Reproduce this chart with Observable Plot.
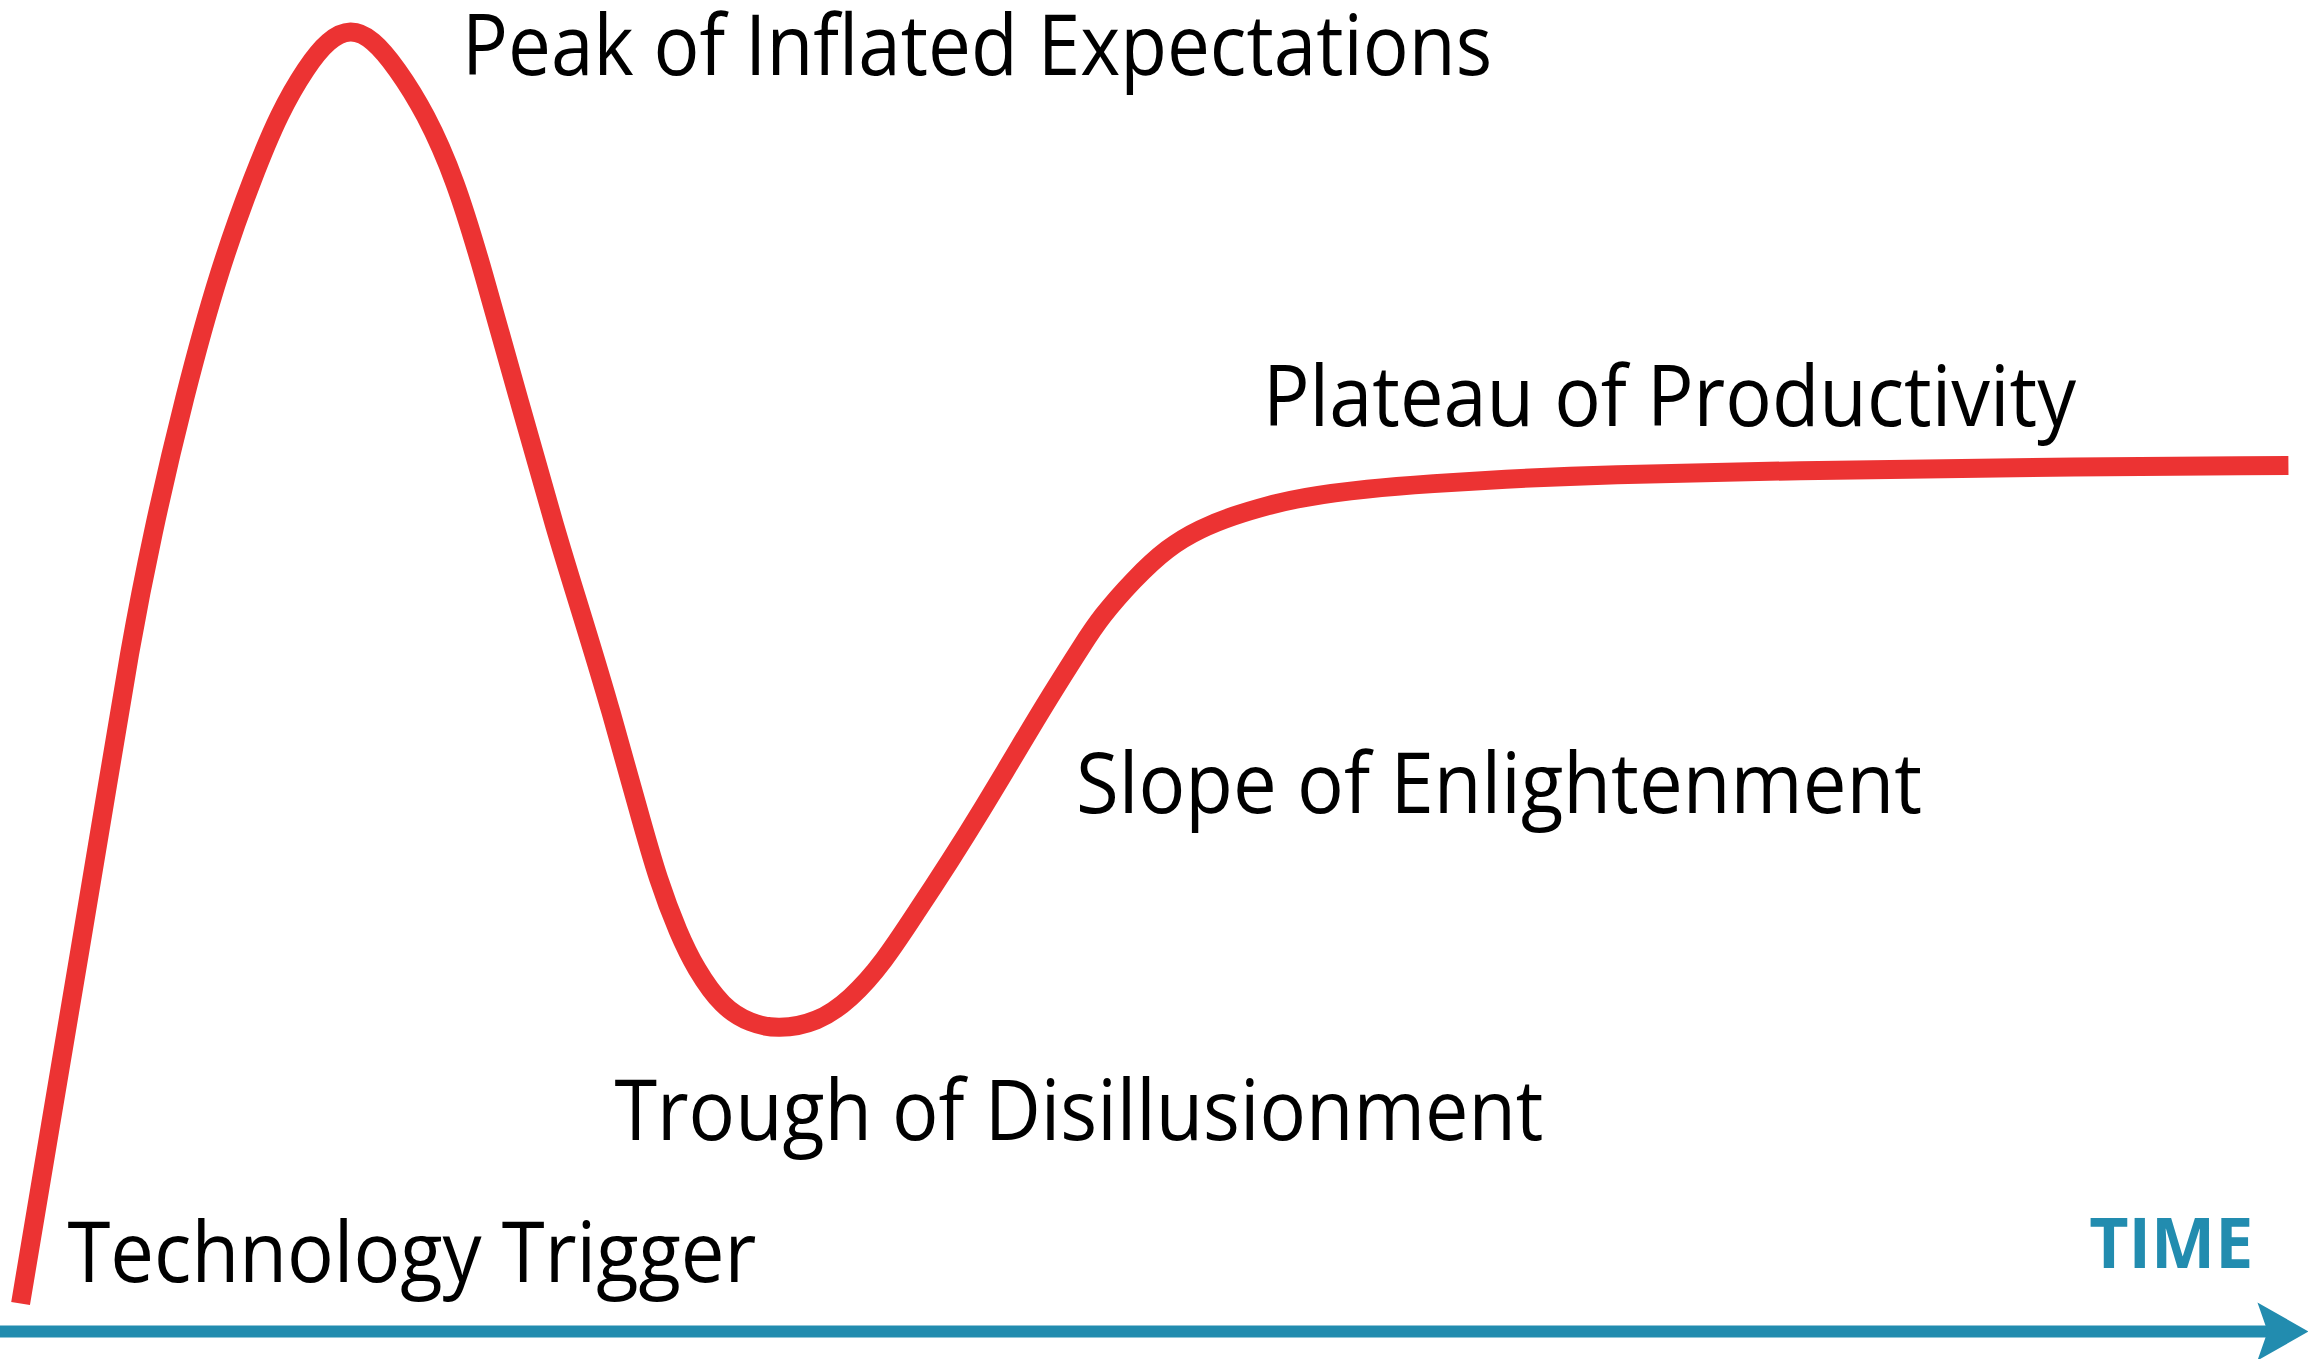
<!DOCTYPE html>
<html>
<head>
<meta charset="utf-8">
<script src="https://cdn.jsdelivr.net/npm/d3@7"></script>
<script src="https://cdn.jsdelivr.net/npm/@observablehq/plot@0.6"></script>
<style>
  html, body { margin: 0; padding: 0; background: #ffffff; }
  #chart svg { display: block; background: #ffffff; overflow: visible; }
</style>
</head>
<body>
<div id="chart"></div>
<script>
// ---- Data (time vs. visibility / expectations, arbitrary units 0–100) ----
const timeVals = [0.87, 2.17, 3.47, 4.68, 5.59, 6.54, 7.97, 9.49, 10.96, 12.09, 13.26, 14.21, 15.16,
  16.12, 17.16, 18.41, 19.71, 20.88, 22.49, 24.13, 25.04, 26.39, 27.64, 28.51, 29.38, 30.11, 31.28,
  32.50, 33.67, 35.40, 36.83, 38.26, 39.73, 41.16, 42.59, 44.06, 45.49, 46.92, 47.66, 49.09, 50.56,
  51.99, 53.42, 54.90, 56.33, 59.23, 62.09, 64.99, 69.32, 77.99, 86.66, 99.13];
const hypeVals = [2.15, 15.89, 29.55, 42.36, 52.26, 60.94, 71.83, 81.58, 88.72, 93.55, 97.08, 99.16, 100,
  99.23, 97.01, 93.55, 88.41, 81.58, 71.30, 61.01, 55.87, 48.04, 39.98, 34.54, 30.55, 27.86, 24.87,
  23.64, 23.18, 23.71, 25.48, 28.32, 32.31, 36.15, 40.21, 44.59, 48.81, 52.80, 54.80, 57.71, 60.17,
  61.63, 62.62, 63.39, 64.01, 64.70, 65.08, 65.40, 65.77, 66.08, 66.31, 66.46];

const phaseNames = ["Peak of Inflated Expectations", "Plateau of Productivity", "Slope of Enlightenment",
  "Trough of Disillusionment", "Technology Trigger"];
const phaseTime = [20.0, 54.7, 46.6, 26.6, 2.9];
const phaseLevel = [96.4, 69.5, 39.8, 14.7, 3.8];

const axisLabel = ["TIME"];
const axisLabelTime = [90.5];
const axisLabelLevel = [4.9];

const timeDomain = [0, 100];
const levelDomain = [0, 100];

// ---- Styling ----
const RED = "#ec3333";
const BLUE = "#228caf";
const labelWidths = {
  "Peak of Inflated Expectations": 1030,
  "Plateau of Productivity": 813,
  "Slope of Enlightenment": 846,
  "Trough of Disillusionment": 929,
  "Technology Trigger": 689,
  "TIME": 164
};

const curve = timeVals.map((t, i) => ({t, v: hypeVals[i]}));
const phases = phaseNames.map((name, i) => ({name, t: phaseTime[i], v: phaseLevel[i]}));
const axisText = axisLabel.map((name, i) => ({name, t: axisLabelTime[i], v: axisLabelLevel[i]}));

const arrowHead = {
  draw(ctx, size) {
    const r = Math.sqrt(size / Math.PI);
    ctx.moveTo(0, 0);
    ctx.lineTo(-1.76 * r, -r);
    ctx.lineTo(-1.41 * r, 0);
    ctx.lineTo(-1.76 * r, r);
    ctx.closePath();
  }
};

const chart = Plot.plot({
  width: 2308,
  height: 1359,
  marginLeft: 0,
  marginRight: 0,
  marginTop: 28,
  marginBottom: 28,
  x: {domain: timeDomain, axis: null},
  y: {domain: levelDomain, axis: null},
  style: {background: "#ffffff", fontFamily: "'Open Sans', sans-serif", overflow: "visible"},
  marks: [
    Plot.ruleY([0], {x1: timeDomain[0], x2: 98.3, stroke: BLUE, strokeWidth: 12}),
    Plot.dot([{t: timeDomain[1], v: 0}], {x: "t", y: "v", symbol: arrowHead, r: 29, fill: BLUE, stroke: "none"}),
    Plot.line(curve, {x: "t", y: "v", curve: "basis", stroke: RED, strokeWidth: 19, strokeLinecap: "butt", strokeLinejoin: "round"}),
    Plot.text(phases, {x: "t", y: "v", text: "name", textAnchor: "start", lineAnchor: "bottom",
      fontSize: 84, fill: "#000000", fontFamily: "'Open Sans', sans-serif"}),
    Plot.text(axisText, {x: "t", y: "v", text: "name", textAnchor: "start", lineAnchor: "bottom",
      fontSize: 70, fontWeight: "bold", fill: BLUE, fontFamily: "'Open Sans', sans-serif"})
  ]
});

document.getElementById("chart").appendChild(chart);

d3.select(chart).selectAll("text").each(function() {
  const w = labelWidths[this.textContent.trim()];
  if (w) {
    this.setAttribute("textLength", w);
    this.setAttribute("lengthAdjust", "spacingAndGlyphs");
  }
});
</script>
</body>
</html>
